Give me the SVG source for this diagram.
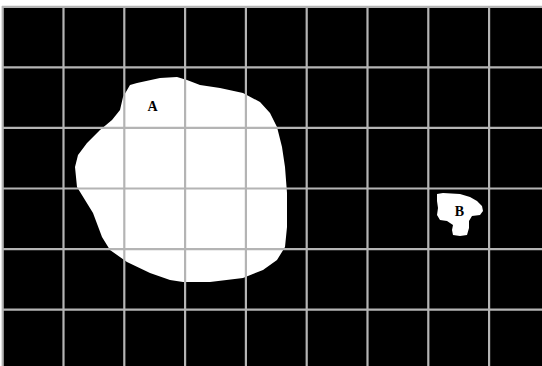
<svg xmlns="http://www.w3.org/2000/svg" width="542" height="366" viewBox="0 0 542 366">
<style>
.grid line{stroke:#b4b4b4;stroke-width:2.2}
.blob{fill:#fff;stroke:none}
.lbl{font-family:"Liberation Serif",serif;font-size:14px;font-weight:bold;fill:#000;text-anchor:middle}
</style>
<rect width="542" height="366" fill="#fff"/>
<rect x="2.7" y="6.7" width="540" height="360" fill="#000"/>
<g id="A">
<path class="blob" d="M130,85 L137,83 L160,78 L177,77 L187,80 L200,85 L220,88 L243,93 L260,102 L270,113 L277,127 L282,147 L285,167 L287,193 L287,227 L285,247 L277,260 L263,270 L243,278 L210,282 L183,282 L170,280 L150,273 L127,262 L110,250 L102,237 L93,213 L85,200 L77,187 L75,167 L78,155 L87,143 L100,130 L112,120 L120,110 L123,97 Z"/>
<text class="lbl" x="152.5" y="111">A</text>
</g>
<g id="B">
<path class="blob" d="M437,194 L443,193 L460,194 L470,197 L477,201 L482,206 L483,211 L480,215 L472,216 L469,221 L469,228 L467,235 L460,236 L453,235 L452,230 L453,225 L447,221 L440,220 L437,215 L438,208 L437,201 Z"/>
<text class="lbl" x="459.5" y="216">B</text>
</g>
<g id="connectors" class="grid">
<line x1="2.7" y1="6" x2="2.7" y2="366"/>
<line x1="63.5" y1="6" x2="63.5" y2="366"/>
<line x1="124.3" y1="6" x2="124.3" y2="366"/>
<line x1="185.1" y1="6" x2="185.1" y2="366"/>
<line x1="245.9" y1="6" x2="245.9" y2="366"/>
<line x1="306.7" y1="6" x2="306.7" y2="366"/>
<line x1="367.5" y1="6" x2="367.5" y2="366"/>
<line x1="428.3" y1="6" x2="428.3" y2="366"/>
<line x1="489.1" y1="6" x2="489.1" y2="366"/>
<line x1="2" y1="6.8" x2="542" y2="6.8"/>
<line x1="2" y1="67.3" x2="542" y2="67.3"/>
<line x1="2" y1="127.9" x2="542" y2="127.9"/>
<line x1="2" y1="188.5" x2="542" y2="188.5"/>
<line x1="2" y1="249.1" x2="542" y2="249.1"/>
<line x1="2" y1="309.7" x2="542" y2="309.7"/>
</g>
</svg>
